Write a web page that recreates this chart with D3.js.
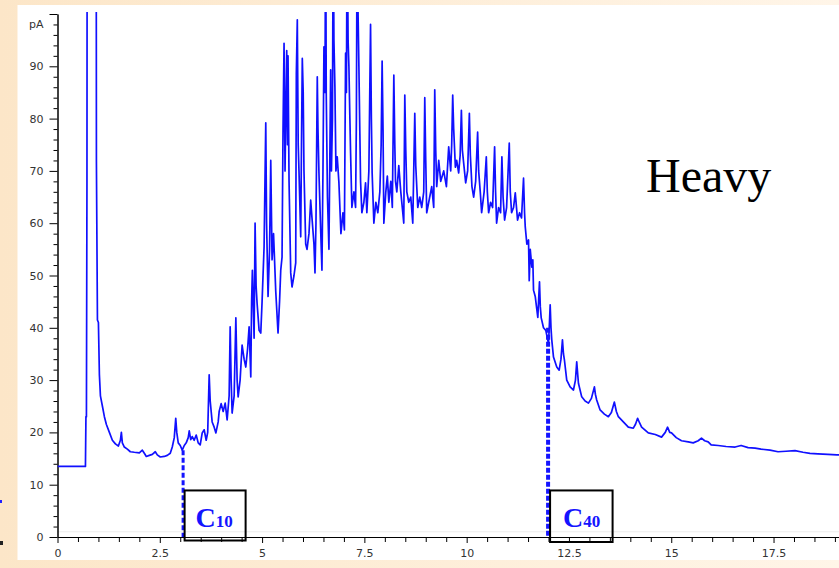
<!DOCTYPE html>
<html>
<head>
<meta charset="utf-8">
<script src="https://cdn.jsdelivr.net/npm/d3@7"></script>
<style>
  html, body { margin: 0; padding: 0; background: #fff; }
  svg { display: block; }
</style>
</head>
<body>
<svg id="drawing_region"></svg>
<script>
// axis ticks and labels
const xMajorTicks = [0, 2.5, 5, 7.5, 10, 12.5, 15, 17.5];
const xTickLabels = ["0", "2.5", "5", "7.5", "10", "12.5", "15", "17.5"];
const yMajorTicks = [0, 10, 20, 30, 40, 50, 60, 70, 80, 90, 100];
const yTickLabels = ["0", "10", "20", "30", "40", "50", "60", "70", "80", "90", ""];
const yUnit = "pA";
const sampleName = "Heavy";

// carbon number markers (retention time, signal where the dotted line starts)
const markerNames = ["10", "40"];
const markerTimes = [3.07, 11.99];
const markerLevels = [16.6, 40];

// FID trace: [time (min), signal (pA)]
const chromatogram = [
  [0.000, 13.5], [0.683, 13.5], [0.695, 23], [0.707, 23], [0.720, 68], [0.732, 200],
  [0.939, 200], [0.951, 72], [0.976, 41.5], [1.000, 41], [1.024, 31], [1.049, 27],
  [1.098, 25], [1.146, 23], [1.195, 21.5], [1.268, 20], [1.341, 18.5], [1.415, 17.8],
  [1.488, 17.4], [1.537, 18.5], [1.561, 20], [1.585, 18], [1.634, 17.2], [1.707, 16.8],
  [1.780, 16.3], [1.878, 16.2], [2.000, 16.1], [2.073, 16.6], [2.122, 16], [2.171, 15.4],
  [2.244, 15.6], [2.317, 15.8], [2.390, 16.3], [2.439, 15.7], [2.512, 15.3], [2.610, 15.4],
  [2.683, 15.6], [2.756, 16], [2.805, 17.2], [2.854, 19], [2.890, 22.7], [2.915, 20],
  [2.951, 18], [3.000, 17.5], [3.049, 16.6], [3.098, 17.5], [3.146, 18], [3.195, 19],
  [3.220, 20.3], [3.256, 18.6], [3.293, 19.2], [3.341, 18.5], [3.390, 19.5], [3.439, 18],
  [3.488, 17.6], [3.537, 19.9], [3.585, 20.5], [3.634, 18.5], [3.671, 20], [3.707, 31],
  [3.732, 26], [3.780, 22], [3.829, 21], [3.871, 19.9], [3.927, 22], [3.951, 24],
  [4.000, 25.5], [4.049, 24], [4.098, 25.6], [4.146, 22.4], [4.195, 27], [4.220, 40.2],
  [4.244, 30], [4.268, 23.7], [4.317, 27], [4.359, 41.9], [4.390, 30], [4.415, 26.8],
  [4.463, 30], [4.512, 36.7], [4.561, 34], [4.602, 32.5], [4.646, 36], [4.683, 40.2],
  [4.724, 30.6], [4.744, 45], [4.763, 51], [4.793, 42], [4.805, 38], [4.829, 60],
  [4.854, 48], [4.878, 44.7], [4.927, 39.5], [4.968, 39], [5.000, 45], [5.049, 55.5],
  [5.090, 79.2], [5.110, 60], [5.146, 46], [5.183, 55], [5.212, 72], [5.244, 53],
  [5.280, 58], [5.334, 47], [5.390, 39], [5.427, 45], [5.456, 51], [5.488, 53.5],
  [5.512, 77.8], [5.537, 94.4], [5.561, 70], [5.602, 93], [5.622, 75], [5.634, 92],
  [5.659, 68], [5.700, 50.5], [5.732, 47.8], [5.780, 50], [5.822, 52.4], [5.837, 88.6],
  [5.861, 98.9], [5.883, 75], [5.902, 70], [5.944, 57.4], [5.963, 75], [5.983, 91.5],
  [6.005, 85], [6.024, 70], [6.066, 56], [6.098, 55], [6.146, 58], [6.188, 64.4],
  [6.220, 61], [6.268, 56], [6.293, 50.5], [6.317, 60], [6.349, 88], [6.366, 78],
  [6.390, 69.6], [6.427, 60], [6.463, 51], [6.488, 70], [6.512, 93.7], [6.537, 85],
  [6.554, 120], [6.568, 85], [6.598, 65], [6.634, 55], [6.659, 75], [6.676, 89.3],
  [6.695, 70], [6.720, 80], [6.739, 120], [6.756, 95], [6.780, 86], [6.805, 70],
  [6.837, 72.7], [6.878, 67.7], [6.927, 58], [6.976, 62], [7.012, 58.7], [7.041, 92.5],
  [7.061, 85], [7.080, 120], [7.102, 95], [7.122, 90], [7.146, 80], [7.163, 73.4],
  [7.195, 63], [7.244, 66], [7.285, 63], [7.305, 80], [7.324, 120], [7.346, 100],
  [7.366, 90], [7.390, 77], [7.407, 68], [7.439, 62], [7.488, 64], [7.529, 67.7],
  [7.561, 62], [7.610, 70], [7.651, 98], [7.671, 80], [7.690, 69.6], [7.732, 60],
  [7.780, 64], [7.829, 62], [7.878, 66], [7.910, 75], [7.934, 91], [7.956, 78],
  [7.976, 60], [8.024, 66], [8.061, 69], [8.098, 64], [8.146, 68], [8.183, 63],
  [8.220, 88.3], [8.244, 75], [8.261, 68], [8.293, 66], [8.341, 71], [8.390, 66],
  [8.439, 62], [8.463, 60], [8.488, 84.5], [8.512, 74], [8.537, 66], [8.585, 64],
  [8.634, 65], [8.683, 60], [8.732, 81], [8.756, 71], [8.805, 63], [8.854, 65],
  [8.902, 63], [8.951, 66], [8.976, 84], [9.000, 72], [9.024, 62], [9.073, 64],
  [9.146, 67], [9.195, 63], [9.220, 85.5], [9.244, 74], [9.268, 67], [9.317, 72],
  [9.366, 68], [9.439, 70], [9.505, 67], [9.561, 74.6], [9.610, 70], [9.634, 75],
  [9.659, 84.5], [9.683, 78], [9.724, 70.7], [9.756, 72], [9.805, 69.6], [9.841, 73],
  [9.871, 81.6], [9.895, 74], [9.927, 71.5], [9.976, 67.7], [10.024, 70], [10.066, 81],
  [10.090, 73], [10.129, 67], [10.171, 65], [10.220, 68], [10.268, 77.4], [10.293, 70],
  [10.334, 65.8], [10.366, 62], [10.427, 66], [10.480, 72.7], [10.505, 66], [10.537, 62],
  [10.585, 64], [10.634, 63], [10.683, 74.6], [10.707, 66], [10.732, 60], [10.780, 63],
  [10.829, 62], [10.861, 72.7], [10.890, 65], [10.927, 60.6], [10.976, 63], [11.041, 75.3],
  [11.066, 66], [11.098, 62], [11.146, 63], [11.188, 65.8], [11.244, 60.6], [11.293, 62],
  [11.341, 61], [11.390, 68.6], [11.415, 62], [11.432, 59.3], [11.471, 56], [11.512, 56.8],
  [11.529, 49], [11.554, 55], [11.593, 51.6], [11.617, 53], [11.634, 47.2], [11.676, 46],
  [11.707, 44], [11.739, 42], [11.763, 46], [11.780, 48.8], [11.800, 44], [11.822, 41.9],
  [11.878, 40], [11.934, 39.5], [12.000, 37], [12.024, 41], [12.041, 44.4], [12.061, 40],
  [12.080, 37.7], [12.122, 34.4], [12.202, 32.5], [12.261, 31.9], [12.305, 34], [12.341, 37.7],
  [12.366, 35], [12.390, 33.8], [12.446, 30], [12.529, 28.7], [12.610, 28.1], [12.659, 30],
  [12.690, 33.5], [12.715, 31], [12.732, 29.4], [12.812, 26.8], [12.895, 26], [12.976, 25.6],
  [13.049, 26.5], [13.122, 28.7], [13.146, 27.3], [13.178, 26.2], [13.261, 24.3], [13.366, 23.5],
  [13.463, 23], [13.537, 23.8], [13.610, 25.8], [13.659, 24], [13.707, 23], [13.829, 22],
  [13.951, 21], [14.073, 20.8], [14.129, 21.6], [14.178, 22.7], [14.227, 21.8], [14.276, 21],
  [14.439, 19.9], [14.610, 19.6], [14.763, 19.1], [14.854, 20], [14.910, 21], [14.963, 20],
  [15.007, 19.9], [15.122, 19], [15.251, 18.4], [15.415, 18.2], [15.537, 18], [15.659, 18.4],
  [15.739, 18.9], [15.817, 18.4], [15.902, 18.2], [15.976, 17.6], [16.146, 17.5], [16.341, 17.3],
  [16.561, 17.2], [16.707, 17.5], [16.878, 17.1], [17.049, 17], [17.195, 16.8], [17.415, 16.6],
  [17.610, 16.3], [17.805, 16.4], [18.024, 16.5], [18.220, 16.2], [18.390, 16.0], [18.585, 15.9],
  [18.829, 15.8], [19.049, 15.7], [19.200, 15.7]
];

const width = 839, height = 568;

const svg = d3.select('#drawing_region')
    .attr('width', width)
    .attr('height', height);

// slide background: beige frame around a white panel
const defs = svg.append('defs');
const grad = defs.append('linearGradient').attr('id', 'frame');
grad.append('stop').attr('offset', '0%').attr('stop-color', '#fce6c8');
grad.append('stop').attr('offset', '100%').attr('stop-color', '#fff5e8');
svg.append('rect').attr('width', width).attr('height', height).attr('fill', 'url(#frame)');
svg.append('rect')
    .attr('x', 17.5).attr('y', 5)
    .attr('width', width - 17.5).attr('height', 555)
    .attr('fill', '#fff');

// stray marks at the left edge of the slide
svg.append('rect').attr('x', 0).attr('y', 500).attr('width', 2).attr('height', 3).attr('fill', '#2020ff');
svg.append('rect').attr('x', 0).attr('y', 541).attr('width', 3).attr('height', 4).attr('fill', '#222');

const x = d3.scaleLinear().domain([0, 19.1]).range([57.5, 839]);
const y = d3.scaleLinear().domain([0, 100]).range([537, 14]);

defs.append('clipPath').attr('id', 'plot-clip')
    .append('rect')
    .attr('x', x(0)).attr('y', y(100.4))
    .attr('width', width - x(0)).attr('height', y(0) - y(100.4));

// faint line just above the x axis
svg.append('line')
    .attr('x1', x(0)).attr('x2', width)
    .attr('y1', y(1)).attr('y2', y(1))
    .attr('stroke', '#ececec');

// minor ticks
const xMinor = d3.range(0, 19.01, 0.5).filter(v => !xMajorTicks.includes(v));
const yMinor = d3.range(0, 100.01, 2).filter(v => !yMajorTicks.includes(v));

const axisStyle = g => {
    g.selectAll('line').attr('stroke', '#000');
    g.selectAll('path').attr('stroke', '#000');
    g.selectAll('text')
        .attr('fill', '#333')
        .style('font-family', '"DejaVu Sans", sans-serif')
        .style('font-size', '11px');
};

svg.append('g')
    .attr('transform', `translate(0, ${y(0)})`)
    .call(d3.axisBottom(x).tickValues(xMinor).tickSize(5).tickSizeOuter(0).tickFormat(''))
    .call(axisStyle);

svg.append('g')
    .attr('transform', `translate(0, ${y(0)})`)
    .call(d3.axisBottom(x).tickValues(xMajorTicks).tickSize(6).tickSizeOuter(0).tickPadding(6)
        .tickFormat((d, i) => xTickLabels[i]))
    .call(axisStyle);

svg.append('g')
    .attr('transform', `translate(${x(0)}, 0)`)
    .call(d3.axisLeft(y).tickValues(yMinor).tickSize(4).tickSizeOuter(0).tickFormat(''))
    .call(axisStyle);

svg.append('g')
    .attr('transform', `translate(${x(0)}, 0)`)
    .call(d3.axisLeft(y).tickValues(yMajorTicks).tickSize(8).tickSizeOuter(0).tickPadding(6)
        .tickFormat((d, i) => yTickLabels[i]))
    .call(axisStyle);

svg.append('text')
    .attr('x', x(0) - 14)
    .attr('y', y(98))
    .attr('dy', '0.35em')
    .attr('text-anchor', 'end')
    .attr('fill', '#333')
    .style('font-family', '"DejaVu Sans", sans-serif')
    .style('font-size', '11px')
    .text(yUnit);

// the trace
const line = d3.line()
    .x(d => x(d[0]))
    .y(d => y(d[1]));

svg.append('path')
    .datum(chromatogram)
    .attr('clip-path', 'url(#plot-clip)')
    .attr('d', line)
    .attr('fill', 'none')
    .attr('stroke', '#1010ff')
    .attr('stroke-width', 1.7)
    .attr('stroke-linejoin', 'round');

// C10 / C40 markers
const markerColor = '#1414ff';
markerNames.forEach((name, i) => {
    const mx = x(markerTimes[i]);
    const big = i === 1;

    svg.append('line')
        .attr('x1', mx).attr('x2', mx)
        .attr('y1', y(markerLevels[i])).attr('y2', y(0))
        .attr('stroke', markerColor)
        .attr('stroke-width', big ? 4 : 3)
        .attr('stroke-dasharray', big ? '5,2' : '5,2.5');

    const bx = mx + (big ? 2 : 1.5);
    svg.append('rect')
        .attr('x', bx).attr('y', y(8.9))
        .attr('width', big ? 62.5 : 61)
        .attr('height', y(0) - y(8.9) + (big ? 5 : 3.5))
        .attr('fill', 'none')
        .attr('stroke', '#000')
        .attr('stroke-width', 2);

    const label = svg.append('text')
        .attr('x', bx + (big ? 13 : 11))
        .attr('y', y(0) - 10)
        .attr('fill', markerColor)
        .style('font-family', '"Liberation Serif", "Times New Roman", serif')
        .style('font-weight', 'bold');
    label.append('tspan').style('font-size', '28px').text('C');
    label.append('tspan').style('font-size', '17px').text(name);
});

// sample name
svg.append('text')
    .attr('x', 646)
    .attr('y', 192)
    .attr('fill', '#000')
    .style('font-family', '"Liberation Serif", "Times New Roman", serif')
    .style('font-size', '48px')
    .text(sampleName);
</script>
</body>
</html>
